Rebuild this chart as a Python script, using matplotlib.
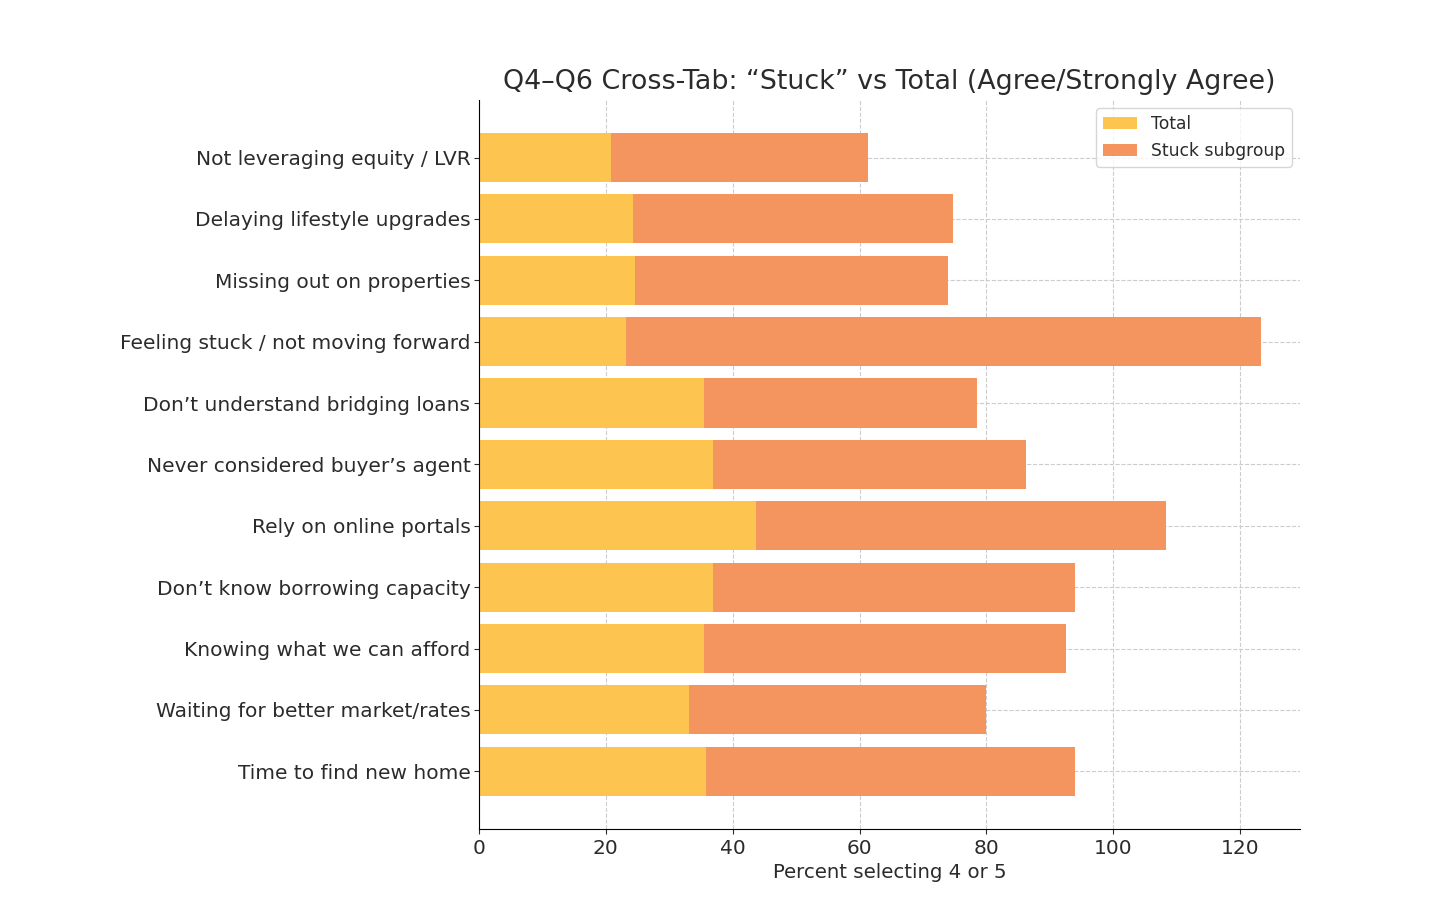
import matplotlib
matplotlib.use("Agg")
import matplotlib.pyplot as plt
import numpy as np

# categories listed top to bottom as in the chart
categories = ['Not leveraging equity / LVR', 'Delaying lifestyle upgrades',
              'Missing out on properties', 'Feeling stuck / not moving forward',
              'Don\u2019t understand bridging loans', 'Never considered buyer\u2019s agent',
              'Rely on online portals', 'Don\u2019t know borrowing capacity',
              'Knowing what we can afford', 'Waiting for better market/rates',
              'Time to find new home']
total = [20.8, 24.3, 24.6, 23.2, 35.5, 36.9, 43.7, 36.9, 35.5, 33.2, 35.8]
stuck = [40.6, 50.5, 49.3, 100.1, 43.0, 49.3, 64.6, 57.1, 57.0, 46.8, 58.2]

txt = '#2b2b2b'
plt.rcParams['text.color'] = txt
plt.rcParams['axes.labelcolor'] = txt
plt.rcParams['xtick.color'] = txt
plt.rcParams['ytick.color'] = txt

fig = plt.figure(figsize=(14.29, 9.16), dpi=100)
ax = fig.add_axes([0.335, 0.095, 0.575, 0.796])

y = np.arange(len(categories))[::-1]
ax.barh(y, total, height=0.8, color='#FDC44F', label='Total')
ax.barh(y, stuck, height=0.8, left=total, color='#F4955F', label='Stuck subgroup')

ax.set_yticks(y)
ax.set_yticklabels(categories, fontsize=14.5)
ax.tick_params(axis='y', pad=2.5)
ax.tick_params(axis='x', labelsize=14.5)
ax.set_xlabel('Percent selecting 4 or 5', fontsize=14.2)
ax.set_title('Q4\u2013Q6 Cross-Tab: \u201cStuck\u201d vs Total (Agree/Strongly Agree)', fontsize=19.4, pad=8)
ax.grid(True, linestyle='--', color='#cccccc', linewidth=0.8)
ax.set_axisbelow(True)
ax.spines['top'].set_visible(False)
ax.spines['right'].set_visible(False)
ax.legend(loc='upper right', fontsize=12.3, edgecolor='#cccccc')

fig.savefig('out.png', dpi=100)
